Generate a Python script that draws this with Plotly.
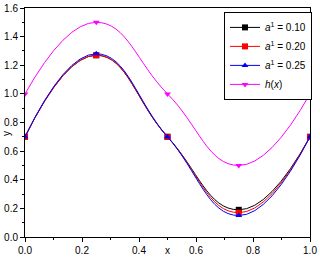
import plotly.graph_objects as go

x_vals = [0.0, 0.25, 0.5, 0.75, 1.0]
a010 = [0.70, 1.27, 0.70, 0.19, 0.70]
a020 = [0.70, 1.27, 0.70, 0.17, 0.70]
a025 = [0.70, 1.28, 0.70, 0.15, 0.70]
hx = [1.00, 1.50, 1.00, 0.50, 1.00]

names = ["<i>a</i><sup>1</sup> = 0.10", "<i>a</i><sup>1</sup> = 0.20",
         "<i>a</i><sup>1</sup> = 0.25", "<i>h</i>(<i>x</i>)"]
series = [a010, a020, a025, hx]
colors = ["#000000", "#ff0000", "#0000ff", "#ff00ff"]
symbols = ["square", "square", "triangle-up", "triangle-down"]

fig = go.Figure()
for n, s, c, m in zip(names, series, colors, symbols):
    fig.add_trace(go.Scatter(
        x=x_vals, y=s, name=n, mode="lines+markers",
        line=dict(color=c, width=1, shape="spline", smoothing=1.3),
        marker=dict(symbol=m, size=6, color=c),
    ))

axis_common = dict(
    showgrid=False, zeroline=False, showline=True, linecolor="black",
    linewidth=1, mirror=True, ticks="outside", ticklen=4, tickwidth=1,
    tickcolor="black", automargin=False,
    tickfont=dict(family="Liberation Sans", size=10, color="black"),
    minor=dict(ticks="outside", ticklen=2, tickcolor="black"),
)
fig.update_xaxes(range=[0, 1], dtick=0.2, tickformat=".1f",
                 minor_dtick=0.1, **axis_common)
fig.update_yaxes(range=[0, 1.6], dtick=0.2, tickformat=".1f",
                 minor_dtick=0.1, **axis_common)

fig.add_annotation(text="x", x=0.5, xref="x", y=-0.06, yref="paper",
                   showarrow=False, yanchor="middle",
                   font=dict(family="Liberation Sans", size=10, color="black"))
fig.add_annotation(text="y", x=-0.063, xref="paper", y=0.45, yref="paper",
                   showarrow=False, textangle=-90, xanchor="center",
                   font=dict(family="Liberation Sans", size=10, color="black"))

fig.update_layout(
    template="none",
    width=320, height=258,
    margin=dict(l=25, r=10, t=8, b=21),
    plot_bgcolor="white", paper_bgcolor="white",
    showlegend=True,
    legend=dict(x=1.007, y=0.983, xanchor="right", yanchor="top",
                bordercolor="black", borderwidth=1, bgcolor="white",
                font=dict(family="Liberation Sans", size=10, color="black"),
                tracegroupgap=0, itemwidth=30),
)
fig.write_html("out.html", config={"displayModeBar": False},
               post_script="document.body.style.margin='0';")
